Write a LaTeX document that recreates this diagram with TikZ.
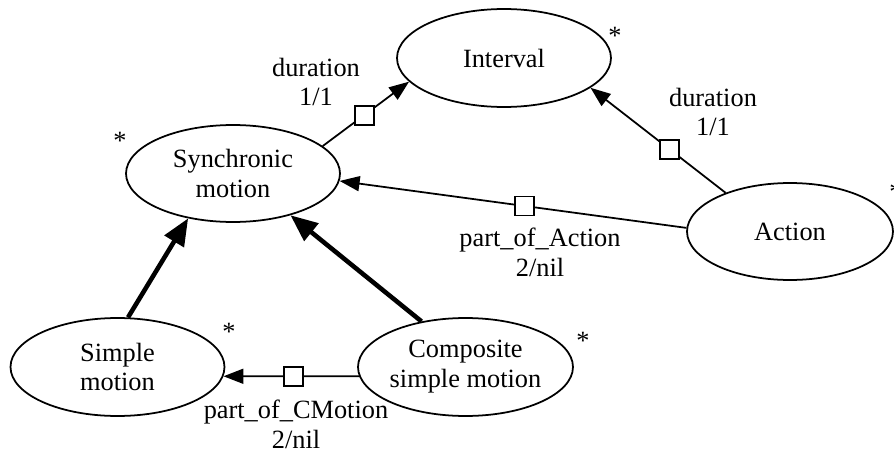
\documentclass[tikz,border=0pt]{standalone}
\usepackage{fontspec}
\setmainfont{Liberation Serif}
\usetikzlibrary{arrows.meta, shapes.geometric}

\begin{document}
\begin{tikzpicture}[x=0.02cm, y=-0.02cm, font=\fontsize{15}{17}\selectfont,
  class/.style={ellipse, draw, line width=1pt, minimum width=4.28cm, minimum height=1.96cm, inner sep=0pt, align=center},
  link/.style={line width=1pt, -{Triangle[length=0.4cm, width=0.3cm]}},
  isa/.style={line width=2.6pt, -{Triangle[length=0.54cm, width=0.44cm]}},
  role/.style={rectangle, draw, fill=white, line width=1pt, minimum size=0.38cm, inner sep=0pt},
  mult/.style={align=center, inner sep=0pt},
  star/.style={anchor=base, inner sep=0pt}]
\useasboundingbox (0,0) rectangle (894,460);
\node[class] (interval) at (504,58) {Interval};
\node[class, minimum height=1.94cm] (sync) at (233,173.5) {Synchronic\\motion};
\node[class, minimum width=4.12cm, minimum height=1.94cm] (action) at (790,231.5) {Action};
\node[class] (simple) at (117.5,367) {Simple\\motion};
\node[class, minimum width=4.3cm] (composite) at (465.5,367) {Composite\\simple motion};
\node[star] (s-interval) at (615,44.5) {*};
\node[star] (s-sync) at (120,149.5) {*};
\node[star] (s-action) at (896,200.5) {*};
\node[star] (s-simple) at (229,340.5) {*};
\node[star] (s-composite) at (583,349.5) {*};
\draw[link] (sync.17) -- node[role, pos=0.48] (r-dur1) {} (interval.194);
\draw[link] (action.149) -- node[role, pos=0.415] (r-dur2) {} (interval.-19);
\draw[link] (action.178) -- node[role, pos=0.467] (r-part1) {} (sync.-4.5);
\draw[link] (composite.185) -- node[role, pos=0.486] (r-part2) {} (simple.-5);
\draw[isa] (simple.78) -- (sync.225);
\draw[isa] (composite.134) -- (sync.-36);
\node[mult] (l-dur1) at (316,82) {duration\\1/1};
\node[mult] (l-dur2) at (713,112) {duration\\1/1};
\node[mult] (l-part1) at (540,252) {part\_of\_Action\\2/nil};
\node[mult] (l-part2) at (296,424) {part\_of\_CMotion\\2/nil};
\end{tikzpicture}
\end{document}
